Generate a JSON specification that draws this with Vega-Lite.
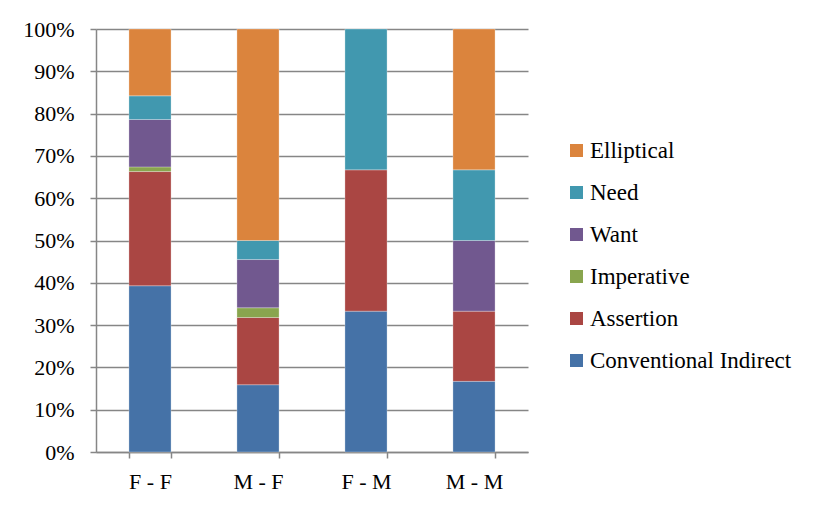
{
  "$schema": "https://vega.github.io/schema/vega-lite/v6.json",
  "width": 432,
  "height": 423,
  "autosize": {"type": "none"},
  "padding": {"left": 96, "top": 29, "right": 288, "bottom": 60},
  "background": "#ffffff",
  "data": {
    "values": [
      {"pair": "F - F", "type": "Conventional Indirect", "pct": 39.3},
      {"pair": "F - F", "type": "Assertion", "pct": 27.0},
      {"pair": "F - F", "type": "Imperative", "pct": 1.1},
      {"pair": "F - F", "type": "Want", "pct": 11.2},
      {"pair": "F - F", "type": "Need", "pct": 5.6},
      {"pair": "F - F", "type": "Elliptical", "pct": 15.8},
      {"pair": "M - F", "type": "Conventional Indirect", "pct": 15.9},
      {"pair": "M - F", "type": "Assertion", "pct": 15.9},
      {"pair": "M - F", "type": "Imperative", "pct": 2.3},
      {"pair": "M - F", "type": "Want", "pct": 11.4},
      {"pair": "M - F", "type": "Need", "pct": 4.5},
      {"pair": "M - F", "type": "Elliptical", "pct": 50.0},
      {"pair": "F - M", "type": "Conventional Indirect", "pct": 33.3},
      {"pair": "F - M", "type": "Assertion", "pct": 33.4},
      {"pair": "F - M", "type": "Need", "pct": 33.3},
      {"pair": "M - M", "type": "Conventional Indirect", "pct": 16.7},
      {"pair": "M - M", "type": "Assertion", "pct": 16.6},
      {"pair": "M - M", "type": "Want", "pct": 16.7},
      {"pair": "M - M", "type": "Need", "pct": 16.7},
      {"pair": "M - M", "type": "Elliptical", "pct": 33.3}
    ]
  },
  "transform": [
    {"calculate": "indexof(['Conventional Indirect','Assertion','Imperative','Want','Need','Elliptical'], datum.type)", "as": "stackRank"}
  ],
  "mark": {"type": "bar", "stroke": "#ffffff", "strokeOpacity": 0.35, "strokeWidth": 0.8},
  "encoding": {
    "x": {
      "field": "pair",
      "type": "nominal",
      "sort": ["F - F", "M - F", "F - M", "M - M"],
      "scale": {"paddingInner": 0.61, "paddingOuter": 0.305},
      "axis": {
        "title": null,
        "labelAngle": 0,
        "tickBand": "extent",
        "tickSize": 6,
        "labelPadding": 13,
        "labelFontSize": 22
      }
    },
    "y": {
      "field": "pct",
      "type": "quantitative",
      "stack": "zero",
      "scale": {"domain": [0, 100]},
      "axis": {
        "title": null,
        "values": [0, 10, 20, 30, 40, 50, 60, 70, 80, 90, 100],
        "labelExpr": "datum.value + '%'",
        "grid": true,
        "tickSize": 6,
        "labelPadding": 16,
        "labelFontSize": 22
      }
    },
    "color": {
      "field": "type",
      "type": "nominal",
      "scale": {
        "domain": ["Elliptical", "Need", "Want", "Imperative", "Assertion", "Conventional Indirect"],
        "range": ["#DB843D", "#4198AF", "#71588F", "#89A54E", "#AA4643", "#4572A7"]
      },
      "legend": {
        "title": null,
        "orient": "none",
        "legendX": 469,
        "legendY": 110,
        "symbolType": "square",
        "symbolSize": 169,
        "symbolStrokeWidth": 0,
        "labelFontSize": 23,
        "labelOffset": 2,
        "rowPadding": 18,
        "labelLimit": 300
      }
    },
    "order": {"field": "stackRank", "type": "quantitative", "sort": "ascending"}
  },
  "config": {
    "font": "Liberation Serif, Times New Roman, serif",
    "view": {"stroke": null},
    "axis": {
      "labelFont": "Liberation Serif, Times New Roman, serif",
      "labelColor": "#000000",
      "domainColor": "#868686",
      "domainWidth": 1.5,
      "tickColor": "#868686",
      "tickWidth": 1.5,
      "gridColor": "#868686",
      "gridWidth": 1.3
    },
    "legend": {
      "labelFont": "Liberation Serif, Times New Roman, serif",
      "labelColor": "#000000"
    }
  }
}
